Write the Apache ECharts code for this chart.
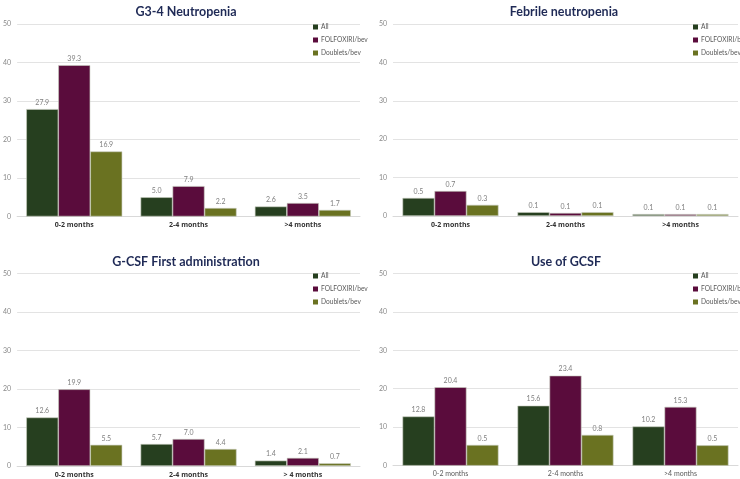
<!DOCTYPE html>
<html>
<head>
<meta charset="utf-8">
<script src="https://cdn.jsdelivr.net/npm/echarts@6/dist/echarts.min.js"></script>
<style>
html,body{margin:0;padding:0;background:#fff;}
#c{width:740px;height:479px;}
</style>
</head>
<body>
<div id="c"></div>
<script>
// ---- Data ----
const seriesNames = ['All', 'FOLFOXIRI/bev', 'Doublets/bev'];
const catsA = ['0-2 months', '2-4 months', '>4 months'];
const catsC = ['0-2 months', '2-4 months', '> 4 months'];
const titles = ['G3-4 Neutropenia', 'Febrile neutropenia', 'G-CSF First administration', 'Use of GCSF'];
const yTicks = [0, 10, 20, 30, 40, 50];

// Panel 1: G3-4 Neutropenia
const g34All = [27.9, 5.0, 2.6];
const g34Folf = [39.3, 7.9, 3.5];
const g34Doub = [16.9, 2.2, 1.7];

// Panel 2: Febrile neutropenia (bar heights as drawn, and printed labels)
const fnAll = [4.7, 1.0, 0.5];
const fnFolf = [6.5, 0.8, 0.5];
const fnDoub = [2.9, 1.0, 0.5];
const fnAllLbl = ['0.5', '0.1', '0.1'];
const fnFolfLbl = ['0.7', '0.1', '0.1'];
const fnDoubLbl = ['0.3', '0.1', '0.1'];

// Panel 3: G-CSF First administration
const gfAll = [12.6, 5.7, 1.4];
const gfFolf = [19.9, 7.0, 2.1];
const gfDoub = [5.5, 4.4, 0.7];

// Panel 4: Use of GCSF
const ugAll = [12.8, 15.6, 10.2];
const ugFolf = [20.4, 23.4, 15.3];
const ugDoub = [5.4, 8.0, 5.3];
const ugDoubLbl = ['0.5', '0.8', '0.5'];

// ---- Styles ----
const colors = ['#263f1f', '#5a0c3c', '#6a7221'];
const grids = [
  {left: 13, top: 24, width: 347, height: 192.5},
  {left: 393, top: 24, width: 345, height: 192},
  {left: 13, top: 273.3, width: 347, height: 192.7},
  {left: 393, top: 273.3, width: 345, height: 192.4}
];
const titlePos = [{x: 181, y: 0}, {x: 559, y: 0}, {x: 181, y: 250}, {x: 561, y: 250}];
const legendPos = [{x: 313, y: 23}, {x: 693, y: 23}, {x: 313, y: 272}, {x: 693, y: 272}];
const catBold = [true, true, true, false];

const panels = [
  {cats: catsA, vals: [g34All, g34Folf, g34Doub], lbls: [null, null, null]},
  {cats: catsA, vals: [fnAll, fnFolf, fnDoub], lbls: [fnAllLbl, fnFolfLbl, fnDoubLbl]},
  {cats: catsC, vals: [gfAll, gfFolf, gfDoub], lbls: [null, null, null]},
  {cats: catsA, vals: [ugAll, ugFolf, ugDoub], lbls: [null, null, ugDoubLbl]}
];

const option = {
  animation: false,
  backgroundColor: '#fff',
  title: titles.map((t, i) => ({
    text: t, left: titlePos[i].x, top: titlePos[i].y, textAlign: 'center',
    textStyle: {fontFamily: 'Lato', fontWeight: 'bold', fontSize: 12.5, color: '#1f2a56'}
  })),
  legend: panels.map((p, i) => ({
    data: seriesNames, orient: 'vertical', left: legendPos[i].x, top: legendPos[i].y,
    itemWidth: 5, itemHeight: 5, itemGap: 5, icon: 'rect', selectedMode: false, padding: 0,
    itemStyle: {borderWidth: 0},
    textStyle: {fontSize: 6.6, lineHeight: 8, color: '#595959', fontFamily: 'Lato',
      padding: [0, 0, 0, -2]}
  })),
  grid: grids,
  xAxis: panels.map((p, i) => ({
    type: 'category', gridIndex: i, data: p.cats,
    axisLine: {lineStyle: {color: '#d9d9d9'}}, axisTick: {show: false},
    axisLabel: {fontSize: 7, color: catBold[i] ? '#333333' : '#595959',
      fontWeight: catBold[i] ? 'bold' : 'normal', margin: 5,
      fontFamily: catBold[i] ? 'Open Sans' : 'Lato'}
  })),
  yAxis: panels.map((p, i) => ({
    type: 'value', gridIndex: i, min: yTicks[0], max: yTicks[yTicks.length - 1], interval: 10,
    axisLine: {show: false}, axisTick: {show: false},
    splitLine: {lineStyle: {color: '#e3e3e3'}},
    axisLabel: {fontSize: 7, color: '#8a8a8a', margin: 6, fontFamily: 'Lato'}
  })),
  series: []
};

panels.forEach((p, i) => {
  seriesNames.forEach((n, s) => {
    const lbl = p.lbls[s];
    option.series.push({
      type: 'bar', name: n, xAxisIndex: i, yAxisIndex: i,
      data: p.vals[s], barWidth: 32, barGap: '0%',
      itemStyle: {color: colors[s], borderColor: '#c8ccc0', borderWidth: 0.6},
      label: {
        show: true, position: 'top', distance: 3, fontSize: 7, color: '#7f7f7f', fontFamily: 'Lato',
        formatter: lbl ? (d => lbl[d.dataIndex]) : (d => d.value.toFixed(1))
      }
    });
  });
});

const chart = echarts.init(document.getElementById('c'), null, {renderer: 'canvas'});
chart.setOption(option);
</script>
</body>
</html>
